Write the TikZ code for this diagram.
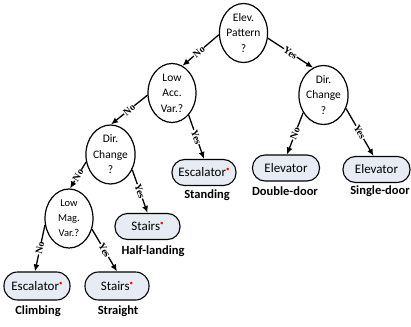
\documentclass[tikz,border=0pt]{standalone}
\usepackage{fontspec}
\setmainfont{Carlito}
\newfontfamily\edgefont{Liberation Serif}
\usetikzlibrary{arrows.meta}
\usetikzlibrary{shapes.geometric}
\definecolor{leafgray}{RGB}{231,235,243}
\tikzset{test/.style = {draw, ellipse, line width=1.2pt, inner sep=0pt,
                        minimum width=48pt, minimum height=59pt,
                        align=center, font=\fontsize{11.5}{15.5}\selectfont}}
\tikzset{leaf/.style = {draw, rectangle, rounded corners=12.5pt, fill=leafgray,
                        line width=1.1pt, minimum height=26pt, inner sep=0pt,
                        font=\fontsize{13}{14}\selectfont}}
\tikzset{kind/.style = {font=\bfseries\fontsize{12.5}{14}\selectfont}}
\tikzset{branch/.style = {-{Latex[length=7pt,width=6pt]}, line width=1.3pt}}
\tikzset{answer/.style = {font=\edgefont\bfseries\fontsize{10}{10}\selectfont,
                          sloped, fill=white, inner sep=0.3pt, pos=0.5}}
\newcommand{\redstar}{\raisebox{5pt}{\fontsize{7}{7}\selectfont\textcolor{red}{\textbullet}}}

\begin{document}
\begin{tikzpicture}[x=1pt, y=-1pt]
		\useasboundingbox (0, 0) rectangle (411, 326);
		% tests
		\node [test] (0) at (243.5, 33) {Elev.\\Pattern\\?};
		\node [test] (1) at (172, 93) {Low\\Acc.\\Var.?};
		\node [test] (2) at (323.5, 95) {Dir.\\Change\\?};
		\node [test] (3) at (110.5, 154.5) {Dir.\\Change\\?};
		\node [test, font=\fontsize{10.5}{15}\selectfont] (4) at (69, 218.5) {Low\\Mag.\\Var.?};
		% leaves
		\node [leaf, minimum width=64pt] (5) at (204, 172.5) {Escalator\redstar};
		\node [leaf, minimum width=67pt] (6) at (286, 168) {Elevator};
		\node [leaf, minimum width=67pt] (7) at (376.5, 169.5) {Elevator};
		\node [leaf, minimum width=65pt] (8) at (147.5, 226.5) {Stairs\redstar};
		\node [leaf, minimum width=66pt, minimum height=28pt, rounded corners=13.5pt] (9) at (37, 286) {Escalator\redstar};
		\node [leaf, minimum width=64pt, minimum height=28pt, rounded corners=13.5pt] (10) at (117, 286) {Stairs\redstar};
		% kinds
		\node [kind] (11) at (207, 195) {Standing};
		\node [kind] (12) at (285, 191) {Double-door};
		\node [kind] (13) at (380, 191) {Single-door};
		\node [kind] (14) at (153, 251) {Half-landing};
		\node [kind] (15) at (38, 311) {Climbing};
		\node [kind] (16) at (118, 311) {Straight};
		% branches
		\draw [branch] (0.184) to node [answer, pos=0.55] {No} (1.69);
		\draw [branch] (0.348) to node [answer] {Yes} (2.111);
		\draw [branch] (1.185) to node [answer] {No} (3.89);
		\draw [branch] (1.307) to node [answer] {Yes} (5.north);
		\draw [branch] (2.221) to node [answer] {No} ([xshift=1pt]6.north);
		\draw [branch] (2.329) to node [answer] {Yes} ([xshift=-3pt]7.north);
		\draw [branch] (3.197) to node [answer] {No} (4.88);
		\draw [branch] (3.325) to node [answer] {Yes} (8.north);
		\draw [branch] (4.195) to node [answer] {No} ([xshift=-2pt]9.north);
		\draw [branch] (4.335) to node [answer] {Yes} (10.north);
	\end{tikzpicture}
\end{document}
